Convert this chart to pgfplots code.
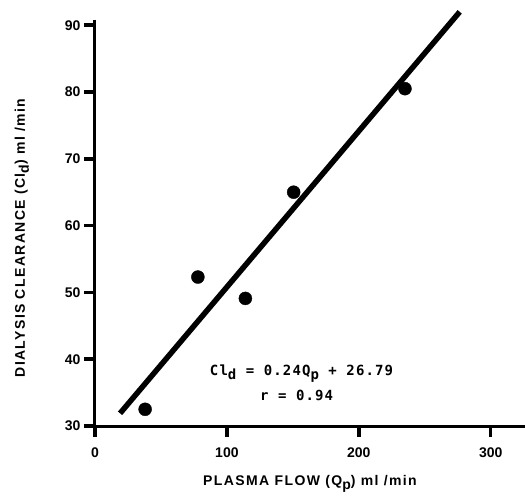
\documentclass[border=0pt]{standalone}
\usepackage{fontspec}
\setmainfont{Liberation Sans}
\newfontfamily\spaced{Liberation Sans}[LetterSpace=10]
\newfontfamily\eqfont{DejaVu Sans Mono}[LetterSpace=8]
\usepackage{pgfplots}
\pgfplotsset{compat=1.18}
\begin{document}
\begin{tikzpicture}
\begin{axis}[
    scale only axis,
    width=430pt, height=406pt,
    xmin=0, xmax=326, ymin=30, ymax=90.78,
    axis lines=left,
    axis line style={line width=3pt, -},
    xtick={0,100,200,300},
    ytick={30,40,...,90},
    tick style={line width=3.5pt, black},
    xtick style={line width=3.5pt, black},
    ytick style={line width=3.5pt, black},
    tick align=outside,
    major tick length=11pt,
    ticklabel style={font=\bfseries\fontsize{14}{14}\selectfont},
    xticklabel style={yshift=-7pt},
    /pgf/number format/assume math mode=true,
    xlabel={\spaced\bfseries PLASMA FLOW (Q\raisebox{-4pt}{p}) ml /min},
    ylabel={\spaced\bfseries DIALYSIS CLEARANCE (Cl\raisebox{-4pt}{d}) ml /min},
    every axis x label/.style={at={(axis description cs:0.5,0)}, anchor=base, yshift=-59pt, font=\fontsize{14}{14}\selectfont},
    every axis y label/.style={at={(axis description cs:-0.17,0.463)}, rotate=90, anchor=center, font=\fontsize{14}{14}\selectfont},
    clip=false,
]
\addplot[black, line width=5.5pt, no marks] coordinates {(19,31.9) (276.5,92.0)};
\addplot[black, only marks, mark=*, mark size=6.5pt] coordinates {
    (38,32.5) (78,52.3) (114,49.1) (150.6,65.0) (235,80.5)};
\node[anchor=base west, inner sep=0pt, font=\eqfont\bfseries\fontsize{14}{14}\selectfont] at (axis cs:87,37.6)
    {Cl\raisebox{-4pt}{d} = 0.24Q\raisebox{-4pt}{p} + 26.79};
\node[anchor=base west, inner sep=0pt, font=\eqfont\bfseries\fontsize{14}{14}\selectfont] at (axis cs:125,33.8)
    {r = 0.94};
\end{axis}
\pgfresetboundingbox
\path[use as bounding box] ([xshift=-95pt,yshift=-72pt]current axis.south west) rectangle ([yshift=20pt]current axis.north east);
\end{tikzpicture}
\end{document}
